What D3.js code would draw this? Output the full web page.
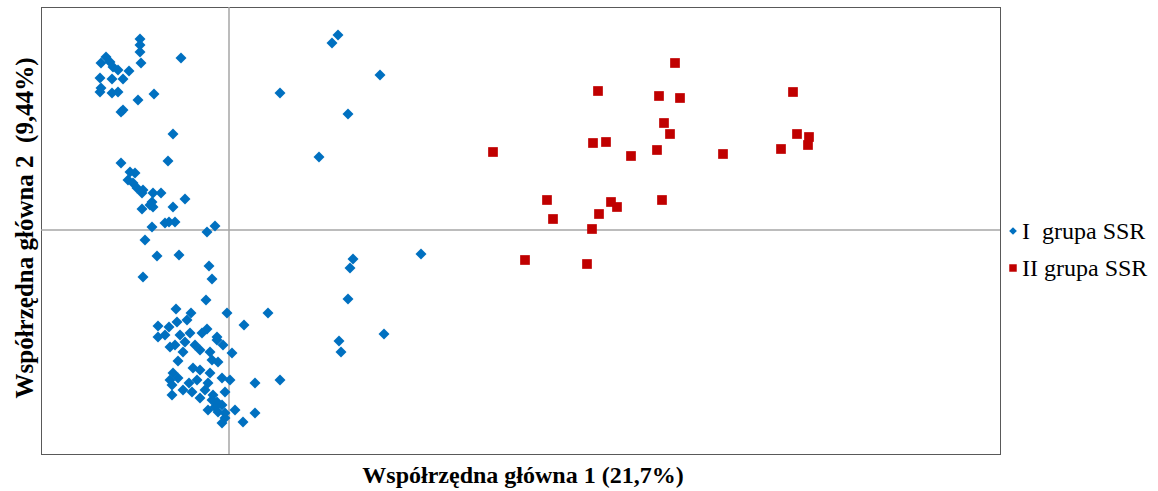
<!DOCTYPE html>
<html><head><meta charset="utf-8">
<script src="https://cdn.jsdelivr.net/npm/d3@7"></script>
<style>html,body{margin:0;padding:0;background:#fff;}svg{display:block;}</style>
</head><body>
<svg id="chart" width="1158" height="491"></svg>
<script>
// PCoA coordinates (arbitrary units, axes cross at 0,0)
const group1X = [-0.89,-0.89,-0.89,-0.88,-0.48,-1.23,-1.28,-1.19,-1.16,-1.11,-1.00,-1.29,-1.17,-1.06,-1.28,-1.29,-1.17,-1.11,-0.91,-0.75,-1.06,-1.08,
 -0.56,-0.61,-1.08,-0.99,-0.94,-1.01,-0.96,-0.92,-0.86,-0.87,-0.76,-0.68,-0.44,-0.77,-0.87,-0.76,-0.56,-0.79,-0.64,-0.60,-0.54,-0.77,-0.22,-0.14,-0.84,
 -0.72,-0.50,-0.20,-0.86,-0.17,-0.23,-0.53,-0.38,-0.02,0.39,0.15,-0.71,-0.60,-0.52,-0.42,-0.22,-0.12,-0.71,-0.49,-0.39,-0.27,-0.12,-0.06,-0.59,-0.46,-0.34,-0.19,0.03,
 -0.51,-0.17,-0.11,-0.36,-0.56,-0.29,-0.19,-0.07,0.01,0.26,0.51,-0.59,-0.57,-0.40,-0.32,-0.21,-0.24,-0.57,-0.37,-0.16,-0.04,-0.17,-0.12,-0.07,-0.14,-0.11,-0.04,0.06,0.26,-0.04,-0.07,0.14,
 -0.64,-0.54,-0.44,-0.29,-0.51,-0.46,-0.29,-0.21,
 1.09,1.03,1.51,0.51,1.19,0.90,1.24,1.21,1.92,1.19,1.55,1.10,1.12];
const group1Y = [1.91,1.85,1.78,1.67,1.72,1.73,1.67,1.68,1.63,1.60,1.59,1.52,1.51,1.51,1.42,1.38,1.37,1.38,1.30,1.36,1.20,1.18,
 0.96,0.69,0.67,0.58,0.57,0.50,0.47,0.42,0.40,0.37,0.37,0.37,0.31,0.28,0.21,0.23,0.23,0.25,0.07,0.08,0.08,0.03,-0.02,0.04,-0.10,
 -0.26,-0.25,-0.36,-0.47,-0.49,-0.70,-0.79,-0.83,-0.83,-0.83,-0.95,-0.96,-0.97,-0.92,-0.90,-0.99,-1.07,-1.07,-1.05,-1.03,-1.03,-1.10,-1.15,-1.17,-1.22,-1.15,-1.22,-1.23,
 -1.31,-1.30,-1.32,-1.38,-1.43,-1.40,-1.43,-1.48,-1.50,-1.53,-1.50,-1.50,-1.55,-1.53,-1.50,-1.53,-1.60,-1.65,-1.62,-1.65,-1.62,-1.70,-1.72,-1.75,-1.77,-1.82,-1.83,-1.80,-1.83,-1.88,-1.93,-1.92,
 -1.05,-1.15,-1.12,-1.20,-1.48,-1.60,-1.68,-1.80,
 1.95,1.87,1.55,1.37,1.16,0.73,-0.29,-0.38,-0.24,-0.69,-1.04,-1.11,-1.22];
const group2X = [2.64,3.18,3.24,2.96,3.58,3.63,3.70,3.82,3.88,3.64,3.77,3.69,4.02,4.28,4.33,4.35,4.41,4.30,4.51,4.46,4.94,5.52,5.64,5.68,5.80,5.79];
const group2Y = [0.78,0.30,0.11,-0.30,-0.34,0.01,0.16,0.28,0.23,0.87,0.88,1.39,0.74,0.80,0.30,1.07,0.96,1.34,1.32,1.67,0.76,0.81,1.38,0.96,0.93,0.85];
const seriesNames = ["I  grupa SSR", "II grupa SSR"];
const xTitle = "Współrzędna główna 1 (21,7%)";
const yTitle = "Współrzędna główna 2  (9,44%)";

const svg = d3.select("#chart");
const L = 41, R = 1000, T = 7, B = 454;
const x = d3.scaleLinear().domain([-1.88, 7.71]).range([L, R]);
const y = d3.scaleLinear().domain([-2.24, 2.23]).range([B, T]);
const blue = "#0070C0", red = "#C00000";

// frame
svg.append("rect").attr("x", L + 0.5).attr("y", T + 0.5).attr("width", R - L).attr("height", B - T)
  .attr("fill", "none").attr("stroke", "#595959").attr("stroke-width", 1);

// zero axes
svg.append("line").attr("x1", x(0)).attr("x2", x(0)).attr("y1", T).attr("y2", B)
  .attr("stroke", "#A6A6A6").attr("stroke-width", 1.5);
svg.append("line").attr("x1", L).attr("x2", R).attr("y1", y(0)).attr("y2", y(0))
  .attr("stroke", "#A6A6A6").attr("stroke-width", 1.5);

const diamond = d3.symbol().type(d3.symbolSquare).size(60)();
const square = d3.symbol().type(d3.symbolSquare).size(94)();

const g1 = group1X.map((v, i) => [v, group1Y[i]]);
const g2 = group2X.map((v, i) => [v, group2Y[i]]);

svg.append("g").selectAll("path").data(g1).join("path")
  .attr("d", diamond)
  .attr("transform", d => `translate(${x(d[0])},${y(d[1])}) rotate(45)`)
  .attr("fill", blue);

svg.append("g").selectAll("path").data(g2).join("path")
  .attr("d", square)
  .attr("transform", d => `translate(${x(d[0])},${y(d[1])})`)
  .attr("fill", red);

// axis titles
svg.append("text").attr("x", 523).attr("y", 483)
  .attr("text-anchor", "middle").attr("font-family", "Liberation Serif").attr("font-weight", "bold")
  .attr("font-size", 24).attr("fill", "#000").text(xTitle);
svg.append("text").attr("transform", `translate(33,228) rotate(-90)`)
  .attr("text-anchor", "middle").attr("font-family", "Liberation Serif").attr("font-weight", "bold")
  .attr("font-size", 25).attr("fill", "#000").style("white-space", "pre").text(yTitle);

// legend
const leg = svg.append("g").attr("font-family", "Liberation Serif").attr("font-size", 24).attr("fill", "#000");
leg.append("path").attr("d", d3.symbol().type(d3.symbolSquare).size(30)())
  .attr("transform", "translate(1013,231) rotate(45)").attr("fill", blue);
leg.append("text").attr("x", 1022).attr("y", 239).style("white-space", "pre").text(seriesNames[0]);
leg.append("path").attr("d", d3.symbol().type(d3.symbolSquare).size(56)())
  .attr("transform", "translate(1013,268)").attr("fill", red);
leg.append("text").attr("x", 1022).attr("y", 276).style("white-space", "pre").text(seriesNames[1]);
</script>
</body></html>
